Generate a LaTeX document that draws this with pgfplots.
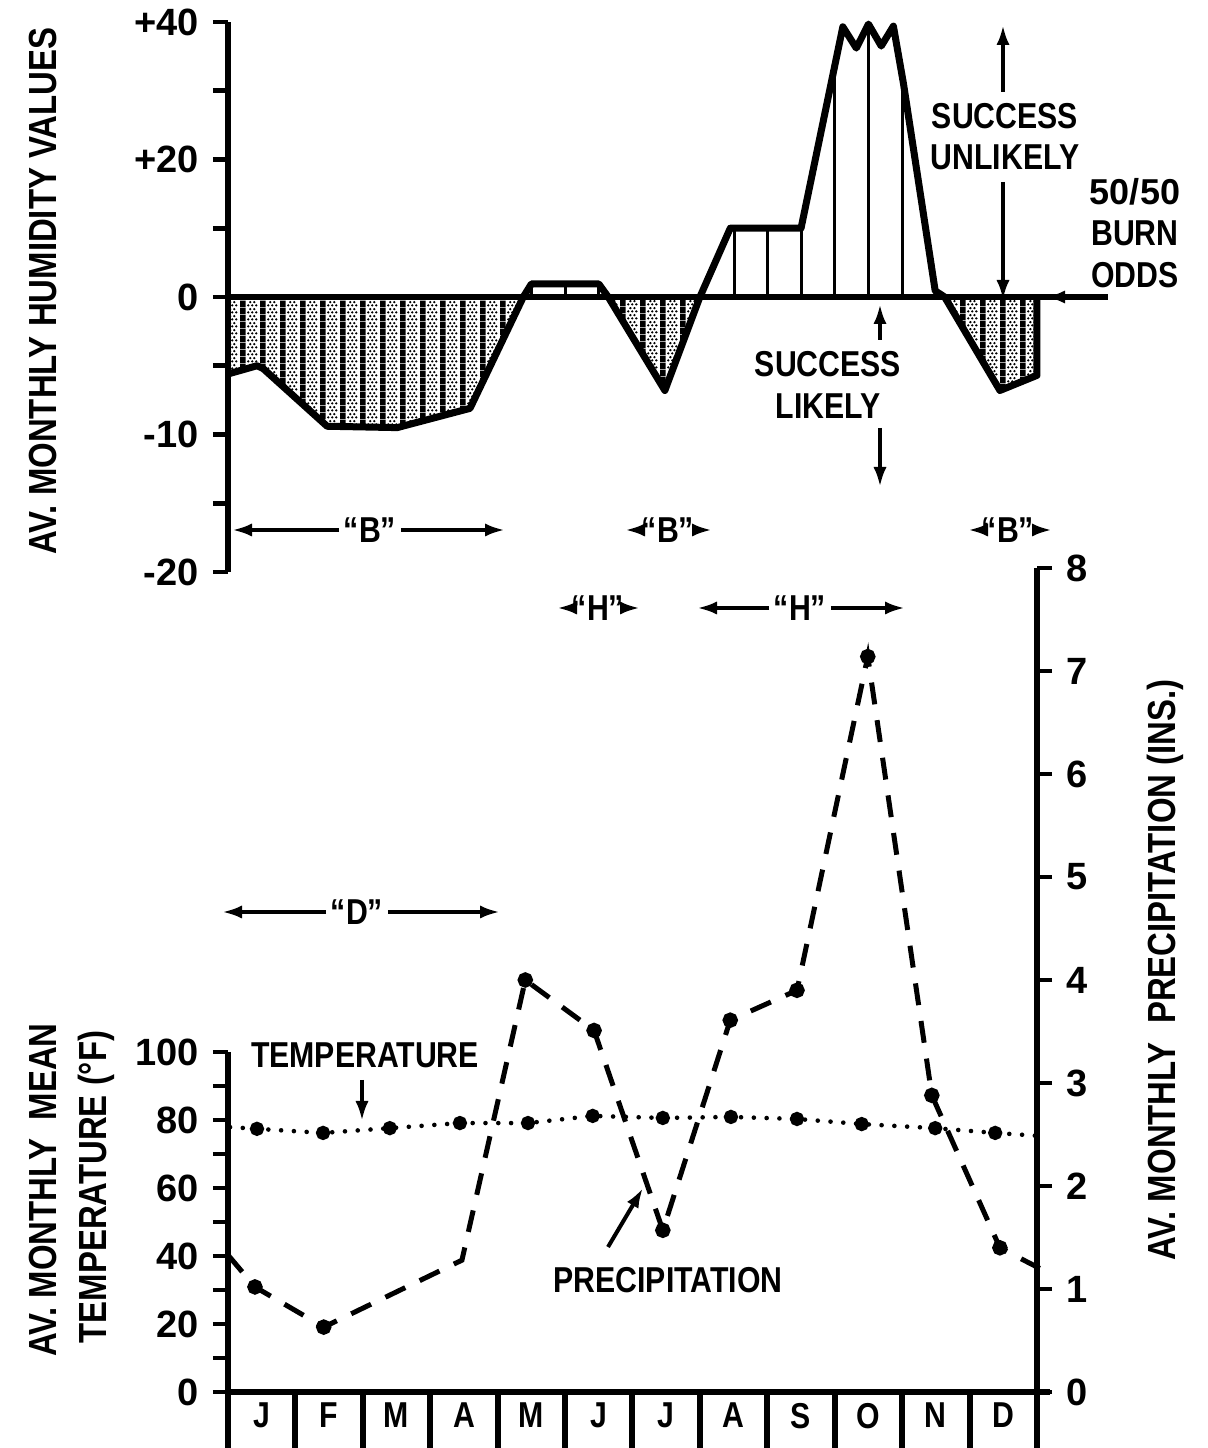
\documentclass[border=0pt]{standalone}
\usepackage{fontspec}
\setmainfont{Liberation Sans}[FakeStretch=0.84]
\newfontfamily\numfont{Liberation Sans}
\usepackage{pgfplots}
\pgfplotsset{compat=1.18}
\usetikzlibrary{arrows.meta,patterns}

% stippled fill with black vertical bars (negative humidity areas)
\pgfdeclarepatternformonly{stripdots}{\pgfqpoint{0pt}{0pt}}{\pgfqpoint{5pt}{1.8pt}}{\pgfqpoint{5pt}{1.8pt}}{%
  \pgfpathrectangle{\pgfqpoint{0pt}{0pt}}{\pgfqpoint{1.45pt}{1.8pt}}%
  \pgfusepath{fill}%
  \pgfpathcircle{\pgfqpoint{2.15pt}{0.45pt}}{0.34pt}%
  \pgfpathcircle{\pgfqpoint{3.2pt}{0.45pt}}{0.34pt}%
  \pgfpathcircle{\pgfqpoint{4.25pt}{0.45pt}}{0.34pt}%
  \pgfpathcircle{\pgfqpoint{2.7pt}{1.35pt}}{0.34pt}%
  \pgfpathcircle{\pgfqpoint{3.75pt}{1.35pt}}{0.34pt}%
  \pgfusepath{fill}%
}

\newcommand\lab{\fontsize{9}{10.3}\selectfont\bfseries}
\newcommand\axlab{\fontsize{9.8}{11}\selectfont\bfseries}
\newcommand\num{\numfont\fontsize{9.5}{11}\selectfont\bfseries}

\pgfplotsset{
  chart/.style={scale only axis, width=202.25pt, anchor=south west,
    xmin=0, xmax=12, clip=false,
    tick align=outside, major tick length=3.75pt, minor tick length=3.75pt,
    tick style={line width=1.2pt, black},
    axis line style={line width=1.5pt},
    ticklabel style={font=\num},
  },
}
\tikzset{arr/.style={line width=1pt, -{Latex[length=5pt,width=3.3pt]}}}

\begin{document}
\begin{tikzpicture}
\useasboundingbox (0,0) rectangle (302pt,362pt);

% ---- humidity (positive side drawn at half scale) ----
\begin{axis}[chart, at={(57pt,219pt)}, height=137.5pt,
  y coord trafo/.code={\pgfmathparse{ifthenelse(#1<0,#1,#1/2)}},
  ymin=-20, ymax=40,
  axis y line*=left, axis x line=none,
  ytick={-20,-10,0,20,40}, yticklabels={-20,-10,0,+20,+40},
  minor ytick={-15,-5,10,30}]
\addplot[draw=none, pattern=stripdots] coordinates {(0,0) (0,-5.6) (0.43,-5.0) (0.52,-5.2) (1.47,-9.4) (2.51,-9.5) (3.59,-8.1) (4.38,0)};
\addplot[draw=none, pattern=stripdots] coordinates {(5.64,0) (6.48,-6.8) (7.0,0)};
\addplot[draw=none, pattern=stripdots] coordinates {(10.63,0) (11.45,-6.8) (12,-5.7) (12,0)};
\addplot[ycomb, line width=0.75pt] coordinates {(4.5,1.9) (5,1.9) (5.5,1.9) (7.52,10) (8,10) (8.5,10) (9,33.5) (9.5,39.7) (10,31)};
\addplot[line width=1.75pt, line join=round] coordinates {
  (0,-5.6) (0.43,-5.0) (0.52,-5.2) (1.47,-9.4) (2.51,-9.5) (3.59,-8.1) (4.38,0)
  (4.5,1.9) (5.5,1.9) (5.64,0) (6.48,-6.8) (7.0,0) (7.45,10) (8.5,10)
  (9.12,39.3) (9.32,36.2) (9.5,39.7) (9.69,36.5) (9.87,39.4) (10.02,31)
  (10.49,0.9) (10.63,0) (11.45,-6.8) (12,-5.7) (12,0)};
\draw[line width=1.5pt] (axis cs:0,0) -- (axis cs:13.05,0);
\draw[arr] (axis cs:13.05,0) -- (axis cs:12.12,0);
\end{axis}

% ---- temperature (left scale) ----
\begin{axis}[chart, at={(57pt,14pt)}, height=206pt, ymin=0, ymax=242.35,
  axis x line*=bottom, axis y line*=left, axis line style={draw=none},
  xtick={0.5,1.5,...,11.5}, xticklabels={J,F,M,A,M,J,J,A,S,O,N,D},
  major x tick style={draw=none},
  xticklabel style={font=\lab, yshift=4.5pt},
  ytick={0,20,...,100}, yticklabels={0,20,40,60,80,100},
  minor ytick={10,30,...,90}]
\draw[line width=1.5pt] (axis cs:0,100) -- (axis cs:0,0) -- (axis cs:12.2,0);
\pgfplotsinvokeforeach{0,...,12}{\draw[line width=1.5pt] (axis cs:#1,0) -- ([yshift=-14pt]axis cs:#1,0);}
\addplot[line width=1.15pt, line cap=round, dash pattern=on 0pt off 3.2pt,
  mark=*, mark size=1.2pt, mark options={solid},
  mark indices={2,3,4,5,6,7,8,9,10,11,12,13}] coordinates {
  (0.03,77.9) (0.43,77.4) (1.41,76.2) (2.40,77.6) (3.44,79.1) (4.45,79.1) (5.41,81.2)
  (6.45,80.6) (7.46,80.9) (8.44,80.3) (9.40,78.8) (10.49,77.6) (11.38,76.2) (12.04,75.3)};
\end{axis}

% ---- precipitation (right scale) ----
\begin{axis}[chart, at={(57pt,14pt)}, height=206pt, ymin=0, ymax=8,
  axis y line*=right, axis x line=none,
  ytick={0,1,...,8}, yticklabels={0,1,2,3,4,5,6,7,8}]
\addplot[line width=1.25pt, dash pattern=on 5.5pt off 4pt,
  mark=*, mark size=1.3pt, mark options={solid},
  mark indices={2,3,5,6,7,8,9,10,11,12}] coordinates {
  (0,1.33) (0.40,1.02) (1.42,0.63) (3.47,1.28) (4.41,4.0) (5.43,3.51) (6.45,1.57)
  (7.45,3.61) (8.44,3.90) (9.49,7.14) (10.44,2.88) (11.45,1.40) (12.04,1.20)};
\end{axis}

% ---- labels and notes, in pixel units of the reference ----
\begin{scope}[x=0.25pt, y=-0.25pt, yshift=362pt, font=\lab]
\node[rotate=90, font=\axlab] at (43,291) {AV. MONTHLY HUMIDITY VALUES};
\node[rotate=90, font=\axlab] at (43,1190) {AV. MONTHLY~~MEAN};
\node[rotate=90, font=\axlab] at (96,1187) {TEMPERATURE (°F)};
\node[rotate=90, font=\axlab] at (1165,970) {AV. MONTHLY~~PRECIPITATION (INS.)};

\node[inner sep=1pt] (b1) at (370,530) {``B''};
\draw[arr] (b1.west) -- (232,530); \draw[arr] (b1.east) -- (505,530);
\node[inner sep=1pt] (b2) at (668,530) {``B''};
\draw[arr] (b2.west) -- (625,530); \draw[arr] (b2.east) -- (712,530);
\node[inner sep=1pt] (b3) at (1008,530) {``B''};
\draw[arr] (b3.west) -- (968,530); \draw[arr] (b3.east) -- (1052,530);
\node[inner sep=1pt] (h1) at (598,608) {``H''};
\draw[arr] (h1.west) -- (557,608); \draw[arr] (h1.east) -- (640,608);
\node[inner sep=1pt] (h2) at (800,608) {``H''};
\draw[arr] (h2.west) -- (697,608); \draw[arr] (h2.east) -- (905,608);
\node[inner sep=1pt] (d1) at (357,912) {``D''};
\draw[arr] (d1.west) -- (222,912); \draw[arr] (d1.east) -- (500,912);

\node[align=center] at (1005,137) {SUCCESS\\UNLIKELY};
\draw[arr] (1003,92) -- (1003,25); \draw[arr] (1003,182) -- (1003,300);
\node[align=center] at (1135,233) {{\numfont 50/50}\\BURN\\ODDS};
\node[align=center] at (828,385) {SUCCESS\\LIKELY};
\draw[arr] (880,340) -- (880,304); \draw[arr] (880,428) -- (880,487);

\node at (365,1055) {TEMPERATURE};
\draw[arr] (362,1080) -- (362,1121);
\node at (668,1280) {PRECIPITATION};
\draw[arr] (608,1247) -- (643,1188);
\end{scope}
\end{tikzpicture}
\end{document}
